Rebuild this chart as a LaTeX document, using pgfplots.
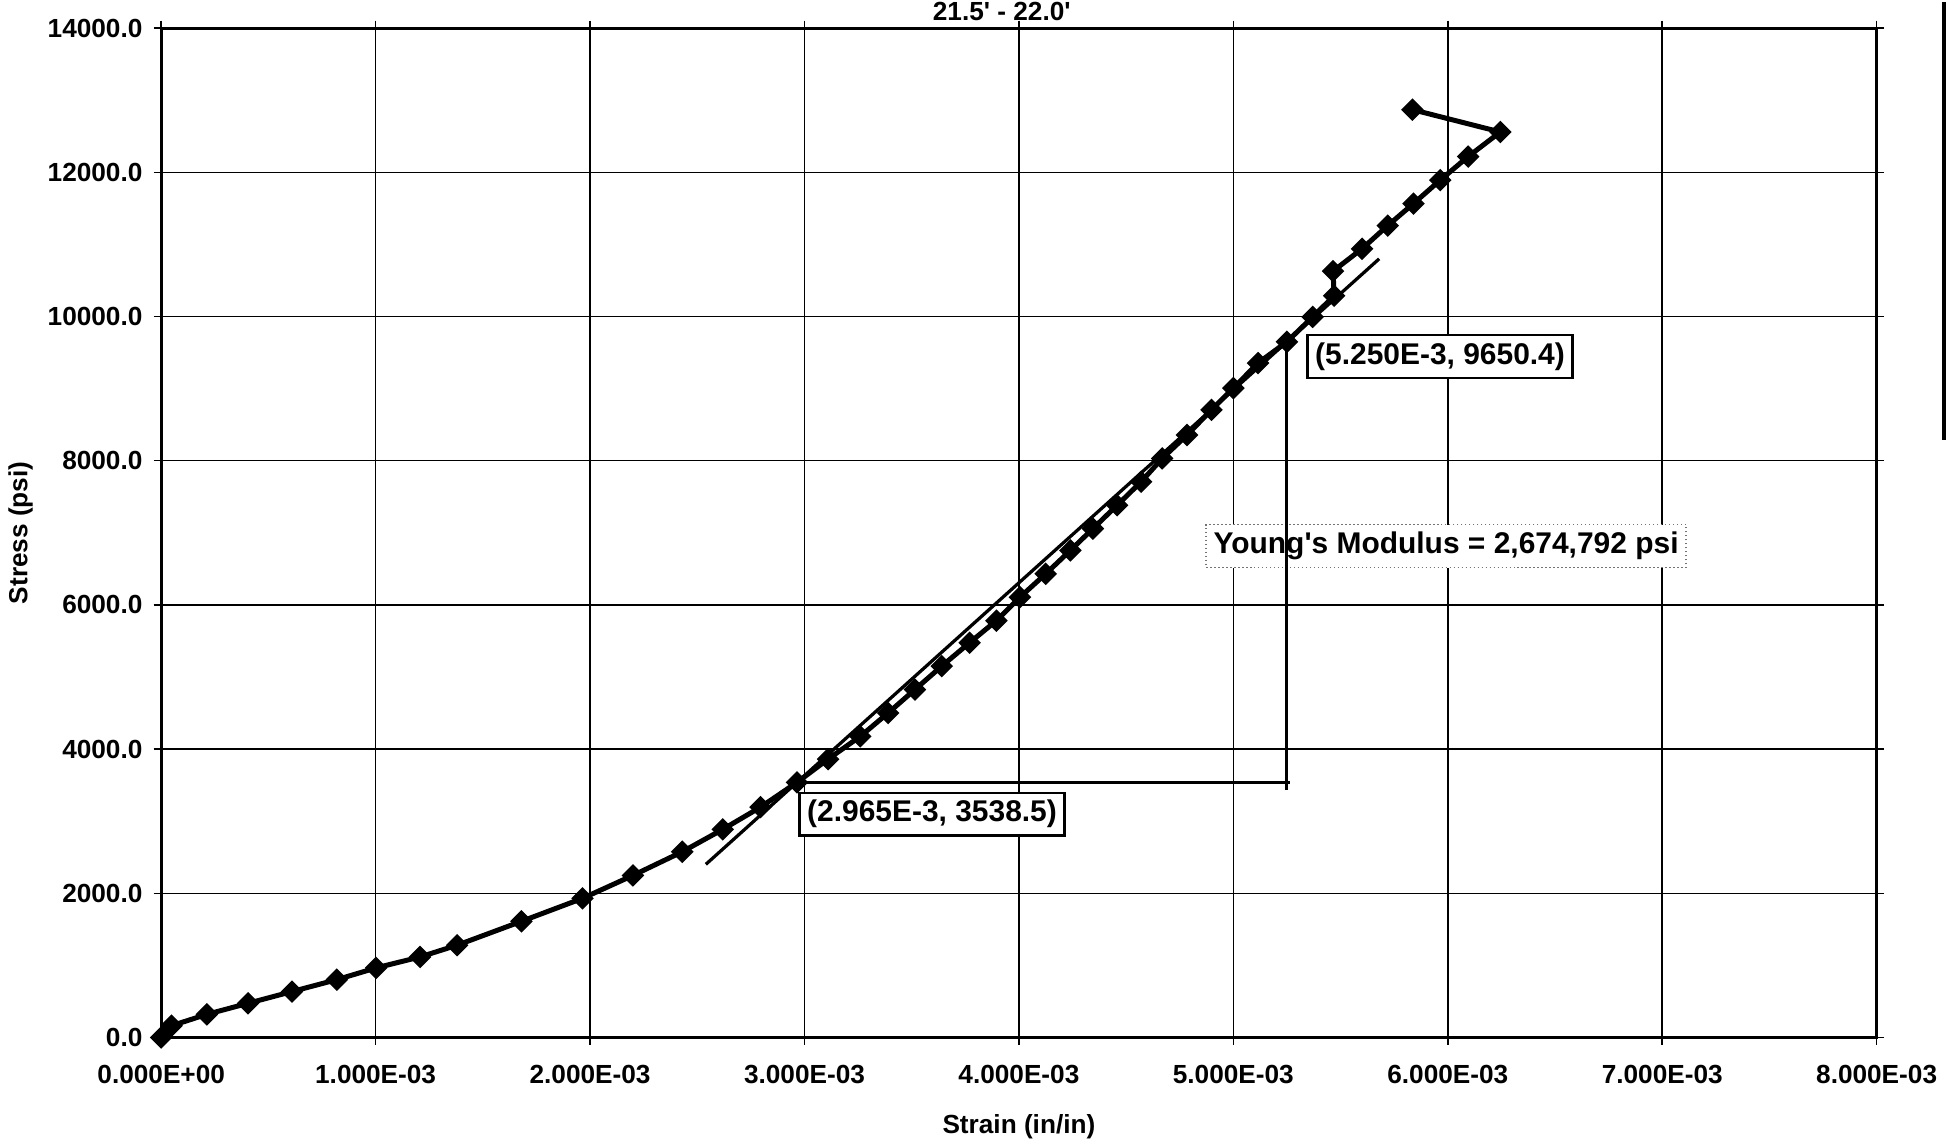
\documentclass[border=0pt]{standalone}
\usepackage{fontspec}
\setmainfont{Liberation Sans}
\usepackage{pgfplots}
\pgfplotsset{compat=1.18}

% stress-strain curve, sample 21.5' - 22.0'
\pgfplotstableread{
strain    stress
0         0
0.000048  163
0.000213  321
0.000405  474
0.000610  637
0.000819  802
0.001002  965
0.001207  1117
0.001380  1280
0.001680  1611
0.001965  1930
0.002200  2248
0.002430  2576
0.002619  2887
0.002795  3195
0.002965  3538.5
0.003110  3861
0.003260  4176
0.003390  4501
0.003515  4826
0.003640  5151
0.003770  5476
0.003895  5782
0.004005  6107
0.004125  6432
0.004240  6756
0.004345  7058
0.004458  7383
0.004570  7708
0.004668  8032
0.004784  8357
0.004898  8705
0.005000  9007
0.005115  9355
0.005250  9650.4
0.005370  9995
0.005470  10288
0.005465  10630
0.005600  10940
0.005720  11262
0.005840  11567
0.005965  11893
0.006095  12219
0.006245  12560
0.005835  12870
}\stressdata

\begin{document}
\begin{tikzpicture}
\begin{axis}[
    scale only axis,
    width=687.5pt, height=404.5pt,
    xmin=0, xmax=0.008, ymin=0, ymax=14000,
    clip=false,
    scaled x ticks=false, scaled y ticks=false,
    xtick={0,0.001,0.002,0.003,0.004,0.005,0.006,0.007,0.008},
    xticklabels={0.000E+00,1.000E-03,2.000E-03,3.000E-03,4.000E-03,5.000E-03,6.000E-03,7.000E-03,8.000E-03},
    ytick={0,2000,4000,6000,8000,10000,12000,14000},
    yticklabels={0.0,2000.0,4000.0,6000.0,8000.0,10000.0,12000.0,14000.0},
    tick align=outside,
    major tick length=3pt,
    tick style={black, line width=0.6pt},
    grid=major,
    major grid style={black, line width=0.6pt},
    axis line style={black, line width=1.3pt},
    tick label style={font=\fontsize{10.5}{12}\selectfont\bfseries},
    xticklabel style={yshift=-4.5pt},
    yticklabel style={xshift=-1pt},
    xlabel={Strain (in/in)},
    ylabel={Stress (psi)},
    label style={font=\fontsize{10.5}{12}\selectfont\bfseries},
    xlabel style={at={(axis description cs:0.5,0)}, anchor=north, yshift=-27.5pt},
    ylabel style={at={(axis description cs:-0.082,0.5)}, anchor=center},
]

% measured data
\addplot[black, line width=2pt, mark=square*, mark size=2.2pt,
         mark options={rotate=45, solid}]
    table[x=strain, y=stress] {\stressdata};

% linear fit, slope 2,674,792 psi
\addplot[black, line width=1.3pt] coordinates {
    (0.00254, 2401.7) (0.00568, 10800.6)
};

% Young's modulus label (drawn before the slope triangle)
\node[draw=black!55, densely dotted, line width=0.6pt, fill=white,
      inner sep=3pt, font=\fontsize{12}{14}\selectfont\bfseries]
    at (axis cs:0.005992,6817) {Young\textquotesingle s Modulus = 2,674,792 psi};

% slope triangle
\addplot[black, line width=1.2pt] coordinates {
    (0.002965, 3538.5) (0.005262, 3538.5)
};
\addplot[black, line width=1.2pt] coordinates {
    (0.00525, 9650.4) (0.00525, 3430)
};

% point labels
\node[draw=black, line width=1pt, fill=white, inner sep=3pt,
      font=\fontsize{12}{14}\selectfont\bfseries]
    at (axis cs:0.005964,9446) {(5.250E-3, 9650.4)};
\node[draw=black, line width=1pt, fill=white, inner sep=3pt,
      font=\fontsize{12}{14}\selectfont\bfseries]
    at (axis cs:0.003595,3097) {(2.965E-3, 3538.5)};

% title
\node[anchor=base, inner sep=0pt, font=\fontsize{10.5}{12}\selectfont\bfseries]
    at ([yshift=3pt]rel axis cs:0.49,1) {21.5\textquotesingle\ - 22.0\textquotesingle};

% edge of a box beyond the right border
\draw[black, line width=1.6pt]
    ([xshift=27pt]rel axis cs:1,0.592) -- ([xshift=27pt,yshift=10.5pt]rel axis cs:1,1);
\end{axis}
\end{tikzpicture}
\end{document}
